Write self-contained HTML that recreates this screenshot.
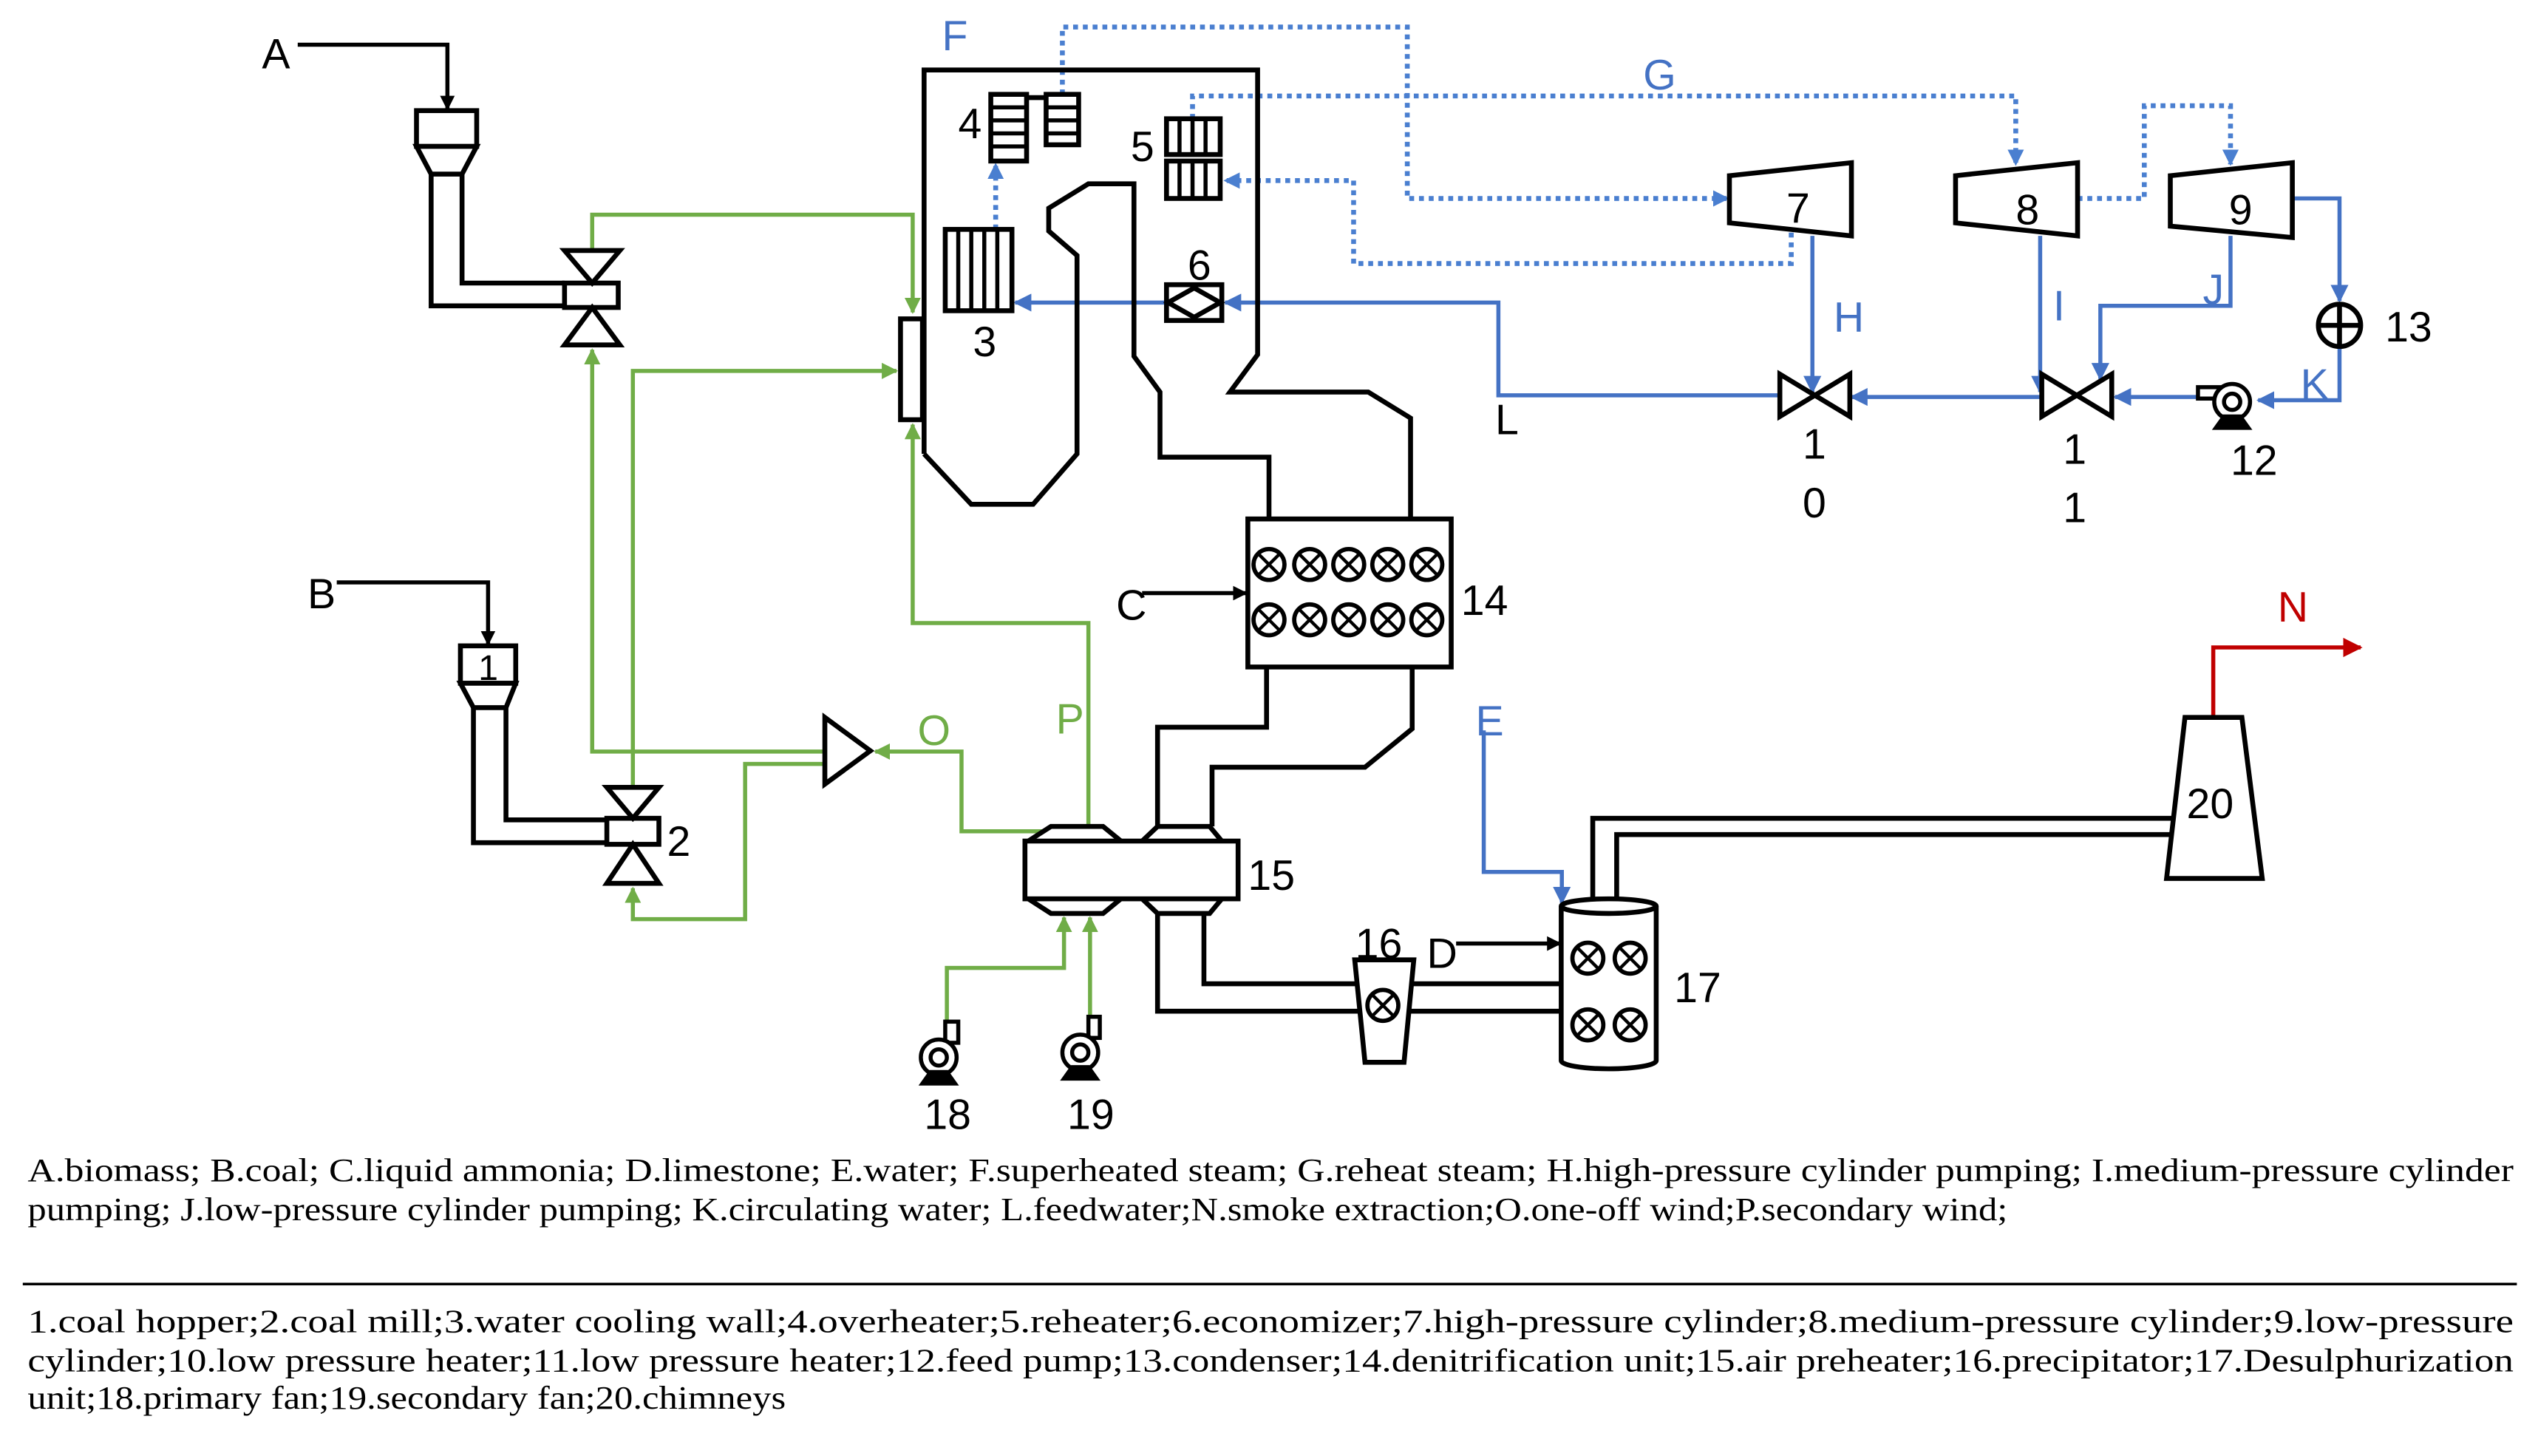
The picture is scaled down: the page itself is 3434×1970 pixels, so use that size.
<!DOCTYPE html>
<html><head><meta charset="utf-8"><style>
html,body{margin:0;padding:0;background:#fff;}
svg{display:block;}
</style></head><body>
<svg xmlns="http://www.w3.org/2000/svg" width="3434" height="1970" viewBox="0 0 1560 895" preserveAspectRatio="none">
<defs>
<marker id="ak" viewBox="0 0 10 10" refX="9" refY="5" markerWidth="9" markerHeight="9" markerUnits="userSpaceOnUse" orient="auto"><path d="M0,0 L10,5 L0,10 Z" fill="#000"/></marker>
<marker id="ag" viewBox="0 0 10 10" refX="9" refY="5" markerWidth="10" markerHeight="10" markerUnits="userSpaceOnUse" orient="auto"><path d="M0,0 L10,5 L0,10 Z" fill="#70ad47"/></marker>
<marker id="ab" viewBox="0 0 10 10" refX="9" refY="5" markerWidth="11" markerHeight="11" markerUnits="userSpaceOnUse" orient="auto"><path d="M0,0 L10,5 L0,10 Z" fill="#4472c4"/></marker>
<marker id="ad" viewBox="0 0 10 10" refX="9" refY="5" markerWidth="10" markerHeight="10" markerUnits="userSpaceOnUse" orient="auto"><path d="M0,0 L10,5 L0,10 Z" fill="#4a7fd0"/></marker>
<marker id="ar" viewBox="0 0 10 10" refX="9" refY="5" markerWidth="12" markerHeight="12" markerUnits="userSpaceOnUse" orient="auto"><path d="M0,0 L10,5 L0,10 Z" fill="#c00000"/></marker>
<g id="cx"><circle cx="0" cy="0" r="9.5" fill="#fff" stroke="#000" stroke-width="2.6"/><path d="M-6.7,-6.7 L6.7,6.7 M6.7,-6.7 L-6.7,6.7" fill="none" stroke="#000" stroke-width="2"/></g>
</defs>

<g fill="none" stroke="#70ad47" stroke-width="2.5">
<path d="M364,155 V132 H561 V192" marker-end="url(#ag)"/>
<path d="M507,462 H364 V215" marker-end="url(#ag)"/>
<path d="M389,484 V228 H551" marker-end="url(#ag)"/>
<path d="M507,469.6 H458 V565 H389 V546" marker-end="url(#ag)"/>
<path d="M646,511 H591 V462 H538" marker-end="url(#ag)"/>
<path d="M669,508 V383 H561 V261" marker-end="url(#ag)"/>
<path d="M582,628 V595 H654 V564" marker-end="url(#ag)"/>
<path d="M670,625 V564" marker-end="url(#ag)"/>
</g>

<g fill="none" stroke="#4472c4" stroke-width="2.5">
<path d="M1094,243 H921 V186 H753" marker-end="url(#ab)"/>
<path d="M717,186 H624" marker-end="url(#ab)"/>
<path d="M1114,145 V241" marker-end="url(#ab)"/>
<path d="M1254,145 V241" marker-end="url(#ab)"/>
<path d="M1371,145 V188 H1291 V233" marker-end="url(#ab)"/>
<path d="M1409,122 H1438 V185" marker-end="url(#ab)"/>
<path d="M1438,214 V246 H1388" marker-end="url(#ab)"/>
<path d="M1350,244 H1300" marker-end="url(#ab)"/>
<path d="M1254,244 H1138" marker-end="url(#ab)"/>
<path d="M912,449 V536 H960 V555" marker-end="url(#ab)"/>
</g>
<g fill="none" stroke="#4a7fd0" stroke-width="3" stroke-dasharray="3,3">
<path d="M653,58 V16.6 H865 V122 H1062" marker-end="url(#ad)"/>
<path d="M733,73 V59 H1239 V101" marker-end="url(#ad)"/>
<path d="M1101,137 V162 H832 V111 H753" marker-end="url(#ad)"/>
<path d="M1277,122 H1318 V65 H1371 V101" marker-end="url(#ad)"/>
<path d="M612,141 V101" marker-end="url(#ad)"/>
</g>
<path d="M1360.4,441 V398 H1451" fill="none" stroke="#c00000" stroke-width="2.5" marker-end="url(#ar)"/>

<g fill="none" stroke="#000" stroke-width="3" stroke-linejoin="miter">
<path d="M183,27.5 H275 V67" stroke-width="2.5" marker-end="url(#ak)"/>
<path d="M207,358 H300 V396" stroke-width="2.5" marker-end="url(#ak)"/>
<path d="M702,364.6 H766" stroke-width="2.5" marker-end="url(#ak)"/>
<path d="M895,580 H959" stroke-width="2.5" marker-end="url(#ak)"/>

<rect x="256" y="68" width="37" height="22" fill="#fff"/>
<path d="M256,90 L293,90 L284,107 L265,107 Z" fill="#fff"/>
<path d="M265,107 V188 H347 M284,107 V174 H347"/>
<rect x="347" y="174" width="33" height="15" fill="#fff"/>
<path d="M347,154 L381,154 L364,174 Z" fill="#fff"/>
<path d="M364,189 L381,212 L347,212 Z" fill="#fff"/>

<rect x="283" y="397" width="34" height="23" fill="#fff"/>
<path d="M283,420 L317,420 L311,435 L291,435 Z" fill="#fff"/>
<path d="M291,435 V518 H373 M311,435 V504 H373"/>
<rect x="373" y="503" width="32" height="16" fill="#fff"/>
<path d="M373,484 L405,484 L389,503 Z" fill="#fff"/>
<path d="M389,519 L405,543 L373,543 Z" fill="#fff"/>

<path d="M568,279 V43 H773 V218 L756,241 H841 L867,257 V319"/>
<path d="M568,279 L597,310 H635 L662,279 V157 L644.6,142 V128 L669,113 H697 V219 L713,241 V281 H780 V319"/>
<rect x="553.5" y="196" width="13.5" height="62" fill="#fff"/>

<rect x="609" y="58" width="22" height="41"/>
<path d="M609,66 H631 M609,74 H631 M609,82 H631 M609,90 H631" stroke-width="2.5"/>
<path d="M631,60 H643"/>
<rect x="643" y="58" width="20" height="31"/>
<path d="M643,66 H663 M643,74 H663 M643,82 H663" stroke-width="2.5"/>
<rect x="717" y="73" width="33" height="22"/>
<rect x="717" y="99" width="33" height="23"/>
<path d="M725,73 V95 M733,73 V95 M741,73 V95 M725,99 V122 M733,99 V122 M741,99 V122" stroke-width="2.5"/>
<rect x="581" y="141" width="41" height="50"/>
<path d="M589,141 V191 M597,141 V191 M605,141 V191 M613,141 V191" stroke-width="2.5"/>
<rect x="717" y="175" width="34" height="22" fill="#fff"/>
<path d="M718,186 L734,177 L750,186 L734,195 Z"/>

<rect x="767" y="319" width="125" height="91" fill="#fff"/>
<path d="M778.5,410 V447 H711.5 V508 M868,410 V448 L839,471.6 H745 V508"/>

<path d="M632,517 L646,508 H678 L689,517 M702,517 L711.5,508 H743.5 L751,517" fill="#fff"/>
<path d="M632,552.5 L646,561.5 H678 L689,552.5 M702,552.5 L711.5,561.5 H743.5 L751,552.5" fill="#fff"/>
<rect x="630" y="517" width="131" height="35.5" fill="#fff"/>
<path d="M711.5,561.5 V621.6 H959 M740,561.5 V604.7 H959"/>
<path d="M832.7,590 L869,590 L863,653 L839,653 Z" fill="#fff"/>
<path d="M979,553 V503 H1336 M993.7,553 V513 H1334"/>
<path d="M959.6,557 V652 A29.2,5 0 0 0 1018,652 V557" fill="#fff"/>
<ellipse cx="988.8" cy="557" rx="29.2" ry="4.5" fill="#fff"/>
<path d="M1343,441 L1378,441 L1390.5,540 L1331.7,540 Z" fill="#fff"/>
<path d="M1063,108 L1138,100 L1138,145 L1063,137 Z" fill="#fff"/>
<path d="M1202,108 L1277,100 L1277,145 L1202,137 Z" fill="#fff"/>
<path d="M1334,108 L1409,100 L1409,146 L1334,139 Z" fill="#fff"/>
<path d="M1094,230 L1094,256 L1137,230 L1137,256 Z" fill="#fff"/>
<path d="M1255,230 L1255,256 L1298,230 L1298,256 Z" fill="#fff"/>
<circle cx="1438" cy="200" r="13" fill="#fff"/>
<path d="M1425,200 H1451 M1438,187 V213"/>
<path d="M507,441 L507,482 L535,461.5 Z" fill="#fff"/>
</g>

<use href="#cx" x="780" y="347"/><use href="#cx" x="805" y="347"/><use href="#cx" x="829" y="347"/><use href="#cx" x="853" y="347"/><use href="#cx" x="877" y="347"/>
<use href="#cx" x="780" y="381"/><use href="#cx" x="805" y="381"/><use href="#cx" x="829" y="381"/><use href="#cx" x="853" y="381"/><use href="#cx" x="877" y="381"/>
<use href="#cx" x="850" y="618"/>
<use href="#cx" x="976" y="589"/><use href="#cx" x="1002" y="589"/>
<use href="#cx" x="976" y="630"/><use href="#cx" x="1002" y="630"/>

<g fill="#fff" stroke="#000" stroke-width="2.5">
<rect x="581" y="628" width="8" height="13"/>
<circle cx="577" cy="650" r="11"/><circle cx="577" cy="650" r="5"/>
<path d="M567,666 L572,659 H582 L587,666 Z" fill="#000"/>
<rect x="669" y="625" width="7" height="13"/>
<circle cx="664" cy="647" r="11"/><circle cx="664" cy="647" r="5"/>
<path d="M654,663 L659,656 H669 L674,663 Z" fill="#000"/>
<rect x="1351" y="238" width="14" height="7"/>
<circle cx="1372" cy="247" r="11"/><circle cx="1372" cy="247" r="5"/>
<path d="M1362,263 L1367,256 H1377 L1382,263 Z" fill="#000"/>
</g>

<g font-family="Liberation Sans, sans-serif" font-size="26" fill="#000">
<text x="161" y="42">A</text>
<text x="189" y="374">B</text>
<text x="686" y="381">C</text>
<text x="877" y="595">D</text>
<text x="919" y="267">L</text>
<text x="294" y="418" font-size="22">1</text>
<text x="410" y="526">2</text>
<text x="598" y="219">3</text>
<text x="589" y="85">4</text>
<text x="695" y="99">5</text>
<text x="730" y="172">6</text>
<text x="1098" y="137">7</text>
<text x="1239" y="138">8</text>
<text x="1370" y="138">9</text>
<text x="1108" y="282">1</text>
<text x="1108" y="318">0</text>
<text x="1268" y="285">1</text>
<text x="1268" y="321">1</text>
<text x="1371" y="292">12</text>
<text x="1466" y="210">13</text>
<text x="898" y="378">14</text>
<text x="767" y="547">15</text>
<text x="833" y="589">16</text>
<text x="1029" y="616">17</text>
<text x="568" y="694">18</text>
<text x="656" y="694">19</text>
<text x="1344" y="503">20</text>
</g>
<g font-family="Liberation Sans, sans-serif" font-size="26" fill="#4472c4">
<text x="579" y="31">F</text>
<text x="1010" y="55">G</text>
<text x="1127" y="204">H</text>
<text x="1262" y="197">I</text>
<text x="1354" y="187">J</text>
<text x="1414" y="245">K</text>
<text x="907" y="452">E</text>
</g>
<g font-family="Liberation Sans, sans-serif" font-size="26" fill="#70ad47">
<text x="564" y="458">O</text>
<text x="649" y="451">P</text>
</g>
<text x="1400" y="382" font-family="Liberation Sans, sans-serif" font-size="26" fill="#c00000">N</text>

<g font-family="Liberation Serif, serif" font-size="20" fill="#000">
<text x="17" y="726" textLength="1528" lengthAdjust="spacingAndGlyphs">A.biomass; B.coal; C.liquid ammonia; D.limestone; E.water; F.superheated steam; G.reheat steam; H.high-pressure cylinder pumping; I.medium-pressure cylinder</text>
<text x="17" y="750" textLength="1217" lengthAdjust="spacingAndGlyphs">pumping; J.low-pressure cylinder pumping; K.circulating water; L.feedwater;N.smoke extraction;O.one-off wind;P.secondary wind;</text>
<text x="17" y="819" textLength="1528" lengthAdjust="spacingAndGlyphs">1.coal hopper;2.coal mill;3.water cooling wall;4.overheater;5.reheater;6.economizer;7.high-pressure cylinder;8.medium-pressure cylinder;9.low-pressure</text>
<text x="17" y="843" textLength="1528" lengthAdjust="spacingAndGlyphs">cylinder;10.low pressure heater;11.low pressure heater;12.feed pump;13.condenser;14.denitrification unit;15.air preheater;16.precipitator;17.Desulphurization</text>
<text x="17" y="866" textLength="466" lengthAdjust="spacingAndGlyphs">unit;18.primary fan;19.secondary fan;20.chimneys</text>
</g>
<rect x="14" y="788.5" width="1533" height="1.6" fill="#000"/>
</svg>
</body></html>
